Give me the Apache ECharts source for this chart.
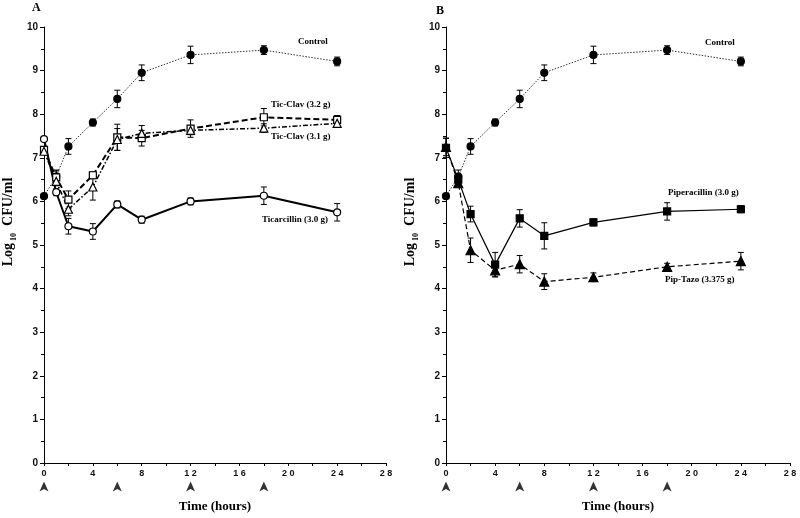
<!DOCTYPE html>
<html><head><meta charset="utf-8">
<script src="https://cdn.jsdelivr.net/npm/echarts@6/dist/echarts.min.js"></script>
<style>html,body{margin:0;padding:0;background:#fff}#c{width:800px;height:518px}</style>
</head><body><div id="c"></div>
<script>
const hours = [0, 1, 2, 4, 6, 8, 12, 18, 24];
const doseTimes = [0, 6, 12, 18];
const xTicks = [0, 4, 8, 12, 16, 20, 24, 28];
const yTicks = [0, 1, 2, 3, 4, 5, 6, 7, 8, 9, 10];

const controlMean = [6.12, 6.57, 7.26, 7.81, 8.35, 8.95, 9.36, 9.47, 9.21];
const controlErr  = [0.04, 0.15, 0.18, 0.08, 0.2, 0.18, 0.2, 0.1, 0.1];
const ticarMean   = [7.43, 6.21, 5.43, 5.31, 5.93, 5.58, 6.0, 6.13, 5.75];
const ticarErr    = [0.04, 0.08, 0.18, 0.18, 0.08, 0.08, 0.08, 0.2, 0.2];
const ticClav32Mean = [7.18, 6.55, 6.04, 6.6, 7.47, 7.45, 7.67, 7.93, 7.87];
const ticClav32Err  = [0.04, 0.15, 0.2, 0.08, 0.3, 0.18, 0.2, 0.2, 0.1];
const ticClav31Mean = [7.15, 6.46, 5.82, 6.33, 7.42, 7.56, 7.63, 7.68, 7.79];
const ticClav31Err  = [0.04, 0.1, 0.15, 0.3, 0.25, 0.18, 0.1, 0.1, 0.08];
const piperMean = [7.23, 6.5, 5.71, 4.55, 5.61, 5.21, 5.52, 5.77, 5.82];
const piperErr  = [0.22, 0.12, 0.18, 0.28, 0.2, 0.3, 0.08, 0.2, 0.08];
const tazoMean  = [7.25, 6.42, 4.88, 4.42, 4.56, 4.16, 4.26, 4.5, 4.63];
const tazoErr   = [0.2, 0.1, 0.28, 0.15, 0.2, 0.18, 0.1, 0.08, 0.2];
const arrowLevel = -0.54;

const chart = echarts.init(document.getElementById('c'), null, {renderer: 'canvas'});
const SERIF = '"Liberation Serif", "Times New Roman", serif';
const SANS = '"Liberation Sans", Arial, sans-serif';

function pts(mean) { return hours.map((h, i) => [h, mean[i]]); }
function errData(mean, err) { return hours.map((h, i) => [h, mean[i] - err[i], mean[i] + err[i]]); }
function errRender(params, api) {
  const x = api.value(0), lo = api.value(1), hi = api.value(2);
  const a = api.coord([x, lo]), b = api.coord([x, hi]);
  const w = 3;
  const st = {stroke: '#000', lineWidth: 1};
  return {type: 'group', children: [
    {type: 'line', shape: {x1: a[0], y1: a[1], x2: b[0], y2: b[1]}, style: st},
    {type: 'line', shape: {x1: a[0] - w, y1: a[1], x2: a[0] + w, y2: a[1]}, style: st},
    {type: 'line', shape: {x1: b[0] - w, y1: b[1], x2: b[0] + w, y2: b[1]}, style: st}
  ]};
}
function errSeries(idx, mean, err) {
  return {type: 'custom', xAxisIndex: idx, yAxisIndex: idx, renderItem: errRender,
    data: errData(mean, err), z: 2, silent: true};
}
function lineSeries(idx, name, mean, symbol, size, lineStyle, filled) {
  return {type: 'line', name: name, xAxisIndex: idx, yAxisIndex: idx, data: pts(mean),
    symbol: symbol, symbolSize: size, showAllSymbol: true, z: 3,
    lineStyle: Object.assign({color: '#000'}, lineStyle),
    itemStyle: {color: filled ? '#000' : '#fff', borderColor: '#000', borderWidth: 1.2},
    emphasis: {disabled: true}, animation: false};
}
function arrowSeries(idx) {
  return {type: 'scatter', xAxisIndex: idx, yAxisIndex: idx, clip: false,
    data: doseTimes.map(t => [t, arrowLevel]),
    symbol: 'path://M0,0 L6,10 L0,7.5 L-6,10 Z', symbolSize: [9, 10],
    itemStyle: {color: '#000'}, silent: true, animation: false};
}
function xAxis(idx) {
  return {type: 'value', gridIndex: idx, min: 0, max: 28, interval: 4,
    name: 'Time (hours)', nameLocation: 'middle', nameGap: 37,
    nameTextStyle: {fontFamily: SERIF, fontWeight: 'bold', fontSize: 13, color: '#000'},
    axisLine: {lineStyle: {color: '#000', width: 1}},
    axisTick: {show: true, length: 3, lineStyle: {color: '#000'}},
    minorTick: {show: true, splitNumber: 2, length: 3, lineStyle: {color: '#000'}},
    splitLine: {show: false},
    axisLabel: {margin: 6, fontFamily: SANS, fontWeight: 'bold', fontSize: 9, color: '#111',
      formatter: v => xTicks.indexOf(v) >= 0 ? String(v).split('').join(' ') : ''}};
}
function yAxis(idx) {
  return {type: 'value', gridIndex: idx, min: 0, max: 10, interval: 1,
    name: '{a|Log}{s|10}{a|  CFU/ml}', nameLocation: 'middle', nameRotate: 90, nameGap: 26,
    nameTextStyle: {padding: [0, 0, 0, 46], rich: {
      a: {fontFamily: SERIF, fontWeight: 'bold', fontSize: 14, color: '#000'},
      s: {fontFamily: SERIF, fontWeight: 'bold', fontSize: 8, color: '#000', padding: [12, 0, 0, 2]}
    }},
    axisLine: {lineStyle: {color: '#000', width: 1}},
    axisTick: {show: true, length: 4, lineStyle: {color: '#000'}},
    minorTick: {show: true, splitNumber: 2, length: 3, lineStyle: {color: '#000'}},
    splitLine: {show: false},
    axisLabel: {margin: 6, fontFamily: SANS, fontWeight: 'bold', fontSize: 10, color: '#111',
      formatter: v => yTicks.indexOf(v) >= 0 ? String(v) : ''}};
}
function label(x, y, text) {
  return {type: 'text', left: x, top: y - 6, style: {text: text, font: 'bold 9px ' + SERIF, fill: '#000'}};
}

const ctrlLine = {width: 1, type: [1.5, 1.5], color: '#333'};

chart.setOption({
  backgroundColor: '#fff',
  animation: false,
  grid: [
    {left: 40, top: 27, width: 346, height: 437},
    {left: 446, top: 27, width: 344, height: 437}
  ],
  xAxis: [xAxis(0), xAxis(1)],
  yAxis: [yAxis(0), yAxis(1)],
  series: [
    errSeries(0, controlMean, controlErr),
    errSeries(0, ticarMean, ticarErr),
    errSeries(0, ticClav32Mean, ticClav32Err),
    errSeries(0, ticClav31Mean, ticClav31Err),
    lineSeries(0, 'Control', controlMean, 'circle', 7, ctrlLine, true),
    lineSeries(0, 'Ticarcillin (3.0 g)', ticarMean, 'circle', 7, {width: 2, type: 'solid'}, false),
    lineSeries(0, 'Tic-Clav (3.2 g)', ticClav32Mean, 'rect', 7, {width: 2, type: [6, 3]}, false),
    lineSeries(0, 'Tic-Clav (3.1 g)', ticClav31Mean, 'triangle', 8, {width: 1.5, type: [5, 2, 1.5, 2]}, false),
    arrowSeries(0),
    errSeries(1, controlMean, controlErr),
    errSeries(1, piperMean, piperErr),
    errSeries(1, tazoMean, tazoErr),
    lineSeries(1, 'Control', controlMean, 'circle', 7, ctrlLine, true),
    lineSeries(1, 'Piperacillin (3.0 g)', piperMean, 'rect', 7, {width: 1.2, type: 'solid'}, true),
    lineSeries(1, 'Pip-Tazo (3.375 g)', tazoMean, 'triangle', 9, {width: 1.2, type: [5, 3]}, true),
    arrowSeries(1)
  ],
  graphic: [
    {type: 'text', left: 32, top: 2, style: {text: 'A', font: 'bold 12px ' + SERIF, fill: '#000'}},
    {type: 'text', left: 436, top: 5, style: {text: 'B', font: 'bold 12px ' + SERIF, fill: '#000'}},
    label(298, 43, 'Control'),
    label(271, 106, 'Tic-Clav (3.2 g)'),
    label(271, 138, 'Tic-Clav (3.1 g)'),
    label(262, 221, 'Ticarcillin (3.0 g)'),
    label(705, 44, 'Control'),
    label(668, 194, 'Piperacillin (3.0 g)'),
    label(665, 281, 'Pip-Tazo (3.375 g)')
  ]
});
</script></body></html>
